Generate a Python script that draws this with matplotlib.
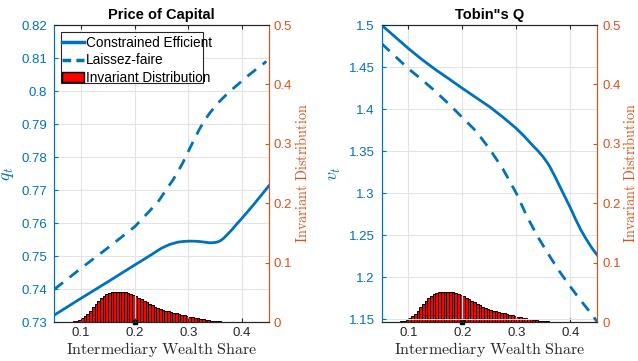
import numpy as np
import matplotlib
matplotlib.use("Agg")
import matplotlib.pyplot as plt
from matplotlib.patches import Patch, Rectangle
from matplotlib.lines import Line2D

plt.rcParams['font.family'] = ['Liberation Sans', 'DejaVu Sans']
plt.rcParams['mathtext.fontset'] = 'cm'

BLUE = '#0072BD'
ORANGE = '#D95319'
GRAY = '#262626'

# price of capital q_t
x_q = [0.05, 0.10, 0.15, 0.20, 0.225, 0.25, 0.265, 0.28, 0.29, 0.30, 0.31, 0.32, 0.33, 0.34,
       0.35, 0.355, 0.36, 0.365, 0.37, 0.38, 0.39, 0.40, 0.41, 0.42, 0.43, 0.44, 0.45]
q_ce = [0.7321, 0.7372, 0.7422, 0.7473, 0.7498, 0.7524, 0.7535, 0.7542, 0.7544, 0.7545, 0.7545,
        0.7544, 0.7542, 0.7540, 0.7541, 0.7543, 0.7547, 0.7553, 0.7561, 0.7578, 0.7597, 0.7615,
        0.7634, 0.7653, 0.7673, 0.7693, 0.7713]
x_q_lf = [0.05, 0.10, 0.15, 0.20, 0.229, 0.245, 0.26, 0.271, 0.28, 0.289, 0.30, 0.31, 0.32, 0.33,
          0.34, 0.35, 0.36, 0.37, 0.38, 0.39, 0.40, 0.41, 0.42, 0.43, 0.44, 0.445]
q_lf = [0.7399, 0.7463, 0.7525, 0.7589, 0.7639, 0.7668, 0.7705, 0.7730, 0.7755, 0.7781, 0.7818,
        0.7851, 0.7883, 0.7911, 0.7934, 0.7954, 0.7972, 0.7988, 0.8003, 0.8017, 0.8031, 0.8045,
        0.8058, 0.8071, 0.8083, 0.8090]

# Tobin's Q v_t
x_v = [0.05, 0.075, 0.10, 0.125, 0.15, 0.175, 0.20, 0.225, 0.25, 0.275, 0.30, 0.315, 0.33, 0.34,
       0.35, 0.36, 0.37, 0.38, 0.39, 0.40, 0.41, 0.42, 0.43, 0.44, 0.45]
v_ce = [1.500, 1.486, 1.472, 1.459, 1.447, 1.436, 1.4247, 1.4138, 1.403, 1.3905, 1.377, 1.3675,
        1.357, 1.3505, 1.343, 1.334, 1.322, 1.309, 1.296, 1.283, 1.269, 1.256, 1.245, 1.235, 1.2265]
x_v_lf = [0.05, 0.075, 0.10, 0.125, 0.15, 0.175, 0.20, 0.225, 0.25, 0.275, 0.30, 0.32, 0.34,
          0.36, 0.38, 0.40, 0.42, 0.44, 0.45]
v_lf = [1.478, 1.463, 1.448, 1.435, 1.421, 1.406, 1.390, 1.374, 1.353, 1.329, 1.300, 1.272,
        1.248, 1.227, 1.207, 1.189, 1.172, 1.156, 1.147]

# invariant distribution (bin centres 0.0525 ... 0.4475, width 0.005)
dist = [0, 0, 0, 0, 0, 0, 0.0005, 0.001, 0.002, 0.004,
        0.006, 0.010, 0.014, 0.019, 0.025, 0.030, 0.035, 0.040, 0.044, 0.047,
        0.049, 0.050, 0.0505, 0.051, 0.051, 0.0505, 0.050, 0.049, 0.047, 0.045,
        0.043, 0.041, 0.038, 0.035, 0.033, 0.030, 0.028, 0.026, 0.024, 0.022,
        0.020, 0.019, 0.018, 0.017, 0.016, 0.015, 0.013, 0.012, 0.011, 0.010,
        0.009, 0.008, 0.007, 0.006, 0.005, 0.0045, 0.004, 0.003, 0.0025, 0.002,
        0.0015, 0.001, 0.0008, 0.0006, 0.0004, 0.0003, 0.0002, 0.0001, 0.0001, 0.0001,
        0.0001, 0.0001, 0, 0, 0, 0, 0, 0, 0, 0]
bin_c = 0.0525 + 0.005 * np.arange(len(dist))
mean_share = 0.2

fig = plt.figure(figsize=(6.38, 3.61), dpi=100)


def panel(rect, x1, y1, x2, y2, ylim, yticks, yticklabels, ylab, title, legend):
    ax = fig.add_axes(rect)
    ax2 = ax.twinx()
    ax.set_zorder(ax2.get_zorder() + 1)
    ax.patch.set_visible(False)
    ax2.bar(bin_c, dist, width=0.005, color='red', edgecolor='black', linewidth=0.7)
    ax2.plot([mean_share], [0], 's', color='black', ms=3, clip_on=False)
    ax2.set_ylim(0, 0.5)
    ax2.set_yticks([0, 0.1, 0.2, 0.3, 0.4, 0.5])
    ax2.set_yticklabels(['0', '0.1', '0.2', '0.3', '0.4', '0.5'])
    ax2.tick_params(axis='y', colors=ORANGE, direction='in', labelsize=9.5, length=3)
    ax2.set_ylabel(r'$\mathrm{Invariant\ Distribution}$', color=ORANGE, fontsize=10.3, labelpad=1)

    l1, = ax.plot(x1, y1, '-', color=BLUE, lw=2)
    l2, = ax.plot(x2, y2, '--', color=BLUE, lw=2, dashes=(4, 3))
    ax.set_xlim(0.05, 0.45)
    ax.set_ylim(*ylim)
    ax.set_xticks([0.1, 0.2, 0.3, 0.4])
    ax.set_xticklabels(['0.1', '0.2', '0.3', '0.4'])
    ax.set_yticks(yticks)
    ax.set_yticklabels(yticklabels)
    ax.grid(True, color='#e3e3e3', lw=0.8)
    ax.set_axisbelow(True)
    ax.tick_params(axis='y', colors=BLUE, direction='in', labelsize=9.5, length=3, pad=5)
    ax.tick_params(axis='x', colors=GRAY, direction='in', labelsize=9.5, length=3, top=True)
    ax.set_xlabel(r'$\mathrm{Intermediary\ Wealth\ Share}$', fontsize=11.5, color=GRAY, labelpad=1)
    ax.set_ylabel(ylab, color=BLUE, fontsize=13, labelpad=4)
    ax.set_title(title, fontsize=10.5, fontweight='bold', pad=4)
    for a in (ax, ax2):
        a.spines['left'].set_color(BLUE)
        a.spines['right'].set_color(ORANGE)
        a.spines['top'].set_color(GRAY)
        a.spines['bottom'].set_color(GRAY)
    if legend:
        handles = [Line2D([], [], color=BLUE, lw=2.5),
                   Line2D([], [], color=BLUE, lw=2.5, ls='--', dashes=(2.5, 1.5)),
                   Patch(facecolor='red', edgecolor='black')]
        ax.legend(handles, ['Constrained Efficient', 'Laissez-faire', 'Invariant Distribution'],
                  loc='upper left', bbox_to_anchor=(0.0, 0.988), fontsize=9.8,
                  frameon=False, handlelength=1.6, handletextpad=0.15, borderpad=0.35,
                  labelspacing=0.25, borderaxespad=0.2)
        ax.add_patch(Rectangle((0.031, 0.805), 0.661, 0.171, transform=ax.transAxes,
                               facecolor='white', edgecolor=GRAY, lw=0.8, zorder=4))
    return ax


panel([0.0851, 0.108, 0.3365, 0.8227], x_q, q_ce, x_q_lf, q_lf, (0.73, 0.82),
      [0.73, 0.74, 0.75, 0.76, 0.77, 0.78, 0.79, 0.80, 0.81, 0.82],
      ['0.73', '0.74', '0.75', '0.76', '0.77', '0.78', '0.79', '0.8', '0.81', '0.82'],
      r'$q_t$', 'Price of Capital', True)
panel([0.598, 0.108, 0.338, 0.8227], x_v, v_ce, x_v_lf, v_lf, (1.1468, 1.5),
      [1.15, 1.2, 1.25, 1.3, 1.35, 1.4, 1.45, 1.5],
      ['1.15', '1.2', '1.25', '1.3', '1.35', '1.4', '1.45', '1.5'],
      r'$v_t$', 'Tobin"s Q', False)

fig.savefig('out.png', dpi=100)
